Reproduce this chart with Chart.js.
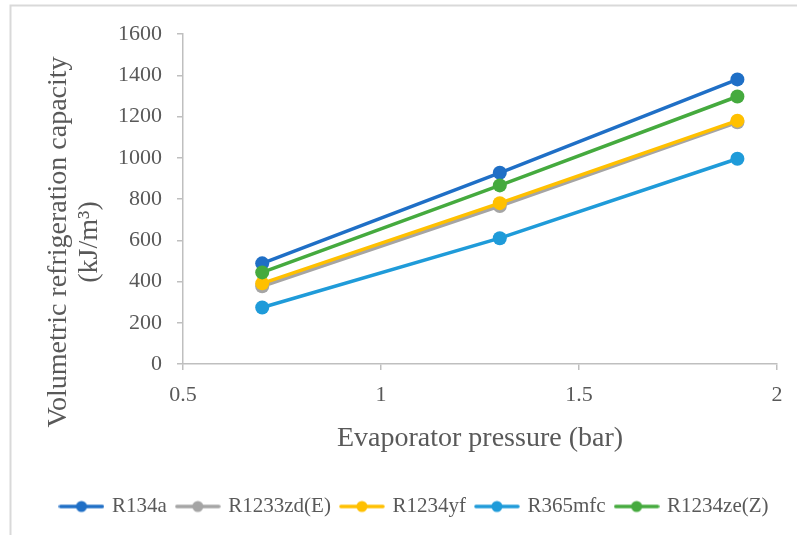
<!DOCTYPE html>
<html>
<head>
<meta charset="utf-8">
<script src="https://cdn.jsdelivr.net/npm/chart.js@4/dist/chart.umd.min.js"></script>
<style>
  html, body { margin: 0; padding: 0; background: #fff; }
  #wrap { width: 797px; height: 535px; position: relative; }
</style>
</head>
<body>
<div id="wrap"><canvas id="c" width="797" height="535"></canvas></div>
<script>
const pressure = [0.7, 1.3, 1.9];
const r134a    = [488, 927, 1380];
const r1233zdE = [377, 766, 1172];
const r1234yf  = [391, 780, 1180];
const r365mfc  = [274, 610, 995];
const r1234zeZ = [444, 866, 1297];

const seriesNames = ['R134a', 'R1233zd(E)', 'R1234yf', 'R365mfc', 'R1234ze(Z)'];
const seriesValues = [r134a, r1233zdE, r1234yf, r365mfc, r1234zeZ];
const seriesColors = ['#1F6FC6', '#A5A5A5', '#FFC000', '#1F9BD9', '#45AA3E'];

const xTitle = 'Evaporator pressure (bar)';
const yTitleLines = ['Volumetric refrigeration capacity', '(kJ/m\u00B3)'];

const FONT = '"Liberation Serif", "Times New Roman", serif';
const TEXT = '#595959';
const AXIS = '#BFBFBF';

function legendIcon(color) {
  const cv = document.createElement('canvas');
  cv.width = 46; cv.height = 14;
  const g = cv.getContext('2d');
  g.strokeStyle = color; g.lineWidth = 3.5; g.lineCap = 'round';
  g.beginPath(); g.moveTo(2, 7); g.lineTo(44, 7); g.stroke();
  g.fillStyle = color;
  g.beginPath(); g.arc(23, 7, 5.5, 0, Math.PI * 2); g.fill();
  return cv;
}

const datasets = seriesNames.map((name, i) => ({
  label: name,
  data: pressure.map((p, j) => ({ x: p, y: seriesValues[i][j] })),
  borderColor: seriesColors[i],
  backgroundColor: seriesColors[i],
  borderWidth: 3.5,
  pointRadius: 7,
  pointHoverRadius: 7,
  pointBorderWidth: 0,
  pointBackgroundColor: seriesColors[i],
  pointStyle: 'circle',
  legendIcon: legendIcon(seriesColors[i]),
  order: -i,
  tension: 0
}));

const framePlugin = {
  id: 'frame',
  beforeDraw(chart) {
    const ctx = chart.ctx;
    ctx.save();
    ctx.strokeStyle = '#D9D9D9';
    ctx.lineWidth = 2;
    ctx.beginPath();
    ctx.moveTo(797, 5.5);
    ctx.lineTo(10.5, 5.5);
    ctx.lineTo(10.5, 535);
    ctx.stroke();
    ctx.restore();
  }
};

const yTitlePlugin = {
  id: 'ytitle',
  afterDraw(chart) {
    const ctx = chart.ctx;
    ctx.save();
    ctx.fillStyle = TEXT;
    ctx.font = '28px ' + FONT;
    ctx.textAlign = 'center';
    ctx.textBaseline = 'middle';
    const cy = 242;
    const xs = [59, 90];
    yTitleLines.forEach((t, k) => {
      ctx.save();
      ctx.translate(xs[k], cy);
      ctx.rotate(-Math.PI / 2);
      ctx.fillText(t, 0, 0);
      ctx.restore();
    });
    ctx.restore();
  }
};

new Chart(document.getElementById('c'), {
  type: 'line',
  data: { datasets },
  plugins: [framePlugin, yTitlePlugin],
  options: {
    responsive: false,
    animation: false,
    devicePixelRatio: 1,
    layout: { padding: { top: 34, right: 0, left: 33, bottom: 8 } },
    plugins: {
      tooltip: { enabled: false },
      legend: {
        position: 'bottom',
        labels: {
          font: { family: FONT, size: 21 },
          color: TEXT,
          usePointStyle: true,
          pointStyleWidth: 40,
          boxHeight: 14,
          padding: 11,
          sort: (a, b) => a.datasetIndex - b.datasetIndex,
          generateLabels(chart) {
            return chart.data.datasets.map((ds, i) => ({
              text: ds.label,
              fillStyle: ds.borderColor,
              strokeStyle: ds.borderColor,
              lineWidth: 0,
              pointStyle: ds.legendIcon,
              datasetIndex: i,
              hidden: false,
              fontColor: TEXT
            }));
          }
        }
      }
    },
    scales: {
      x: {
        type: 'linear',
        min: 0.5, max: 2,
        afterFit(scale) { scale.height = 121; },
        ticks: {
          stepSize: 0.5,
          font: { family: FONT, size: 22 },
          color: TEXT,
          padding: 12,
          maxRotation: 0,
          callback: v => String(v)
        },
        grid: { display: true, drawOnChartArea: false, drawTicks: true, tickLength: 6, color: AXIS, lineWidth: 1.5 },
        border: { display: true, color: AXIS, width: 1.5 },
        title: {
          display: true,
          text: xTitle,
          font: { family: FONT, size: 28 },
          color: TEXT,
          padding: { top: 0, bottom: 30 }
        }
      },
      y: {
        min: 0, max: 1600,
        afterFit(scale) { scale.width = 150; },
        ticks: {
          stepSize: 200,
          font: { family: FONT, size: 22 },
          color: TEXT,
          padding: 15,
          callback: v => String(v)
        },
        grid: { display: true, drawOnChartArea: false, drawTicks: true, tickLength: 6, color: AXIS, lineWidth: 1.5 },
        border: { display: true, color: AXIS, width: 1.5 }
      },
      yRightSpace: {
        position: 'right',
        min: 0, max: 1600,
        afterFit(scale) { scale.width = 20; },
        ticks: { display: false },
        grid: { display: false, drawTicks: false },
        border: { display: false }
      }
    }
  }
});
</script>
</body>
</html>
